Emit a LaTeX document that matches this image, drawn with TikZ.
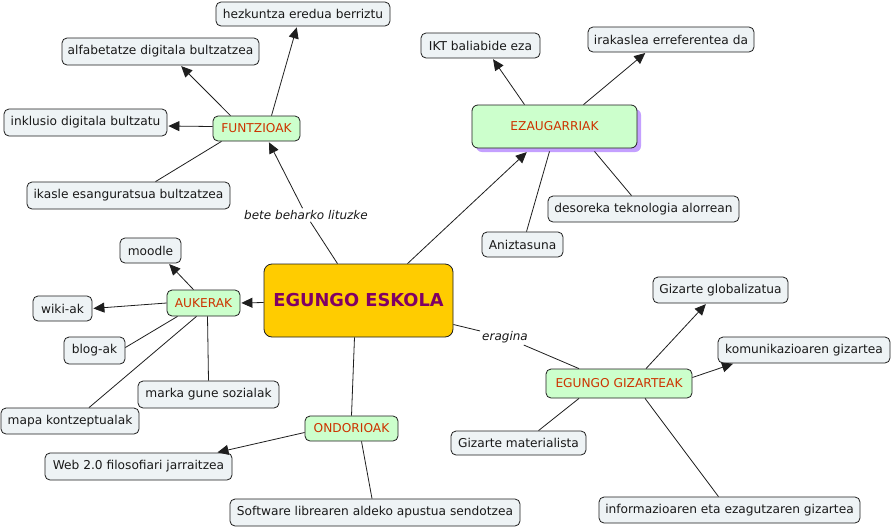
\documentclass[tikz,border=0pt]{standalone}
\usepackage{fontspec}
\setmainfont{DejaVu Sans}
\usetikzlibrary{arrows.meta,shadows}
\definecolor{cfill}{RGB}{238,243,245}
\definecolor{gfill}{RGB}{204,255,204}
\definecolor{rtext}{RGB}{204,51,0}
\definecolor{ofill}{RGB}{255,204,0}
\definecolor{ptext}{RGB}{128,0,100}
\definecolor{shad}{RGB}{196,160,255}
\definecolor{edge}{RGB}{30,30,30}
\begin{document}
\begin{tikzpicture}[x=1pt,y=-1pt,
  concept/.style={draw=edge, fill=cfill, rounded corners=5pt, line width=0.8pt,
    font=\fontsize{12.2}{14}\selectfont, text=black!90, inner sep=0pt},
  green/.style={concept, fill=gfill, text=rtext},
  center/.style={draw=edge, fill=ofill, rounded corners=8pt, line width=0.8pt,
    font=\fontsize{17.8}{20}\selectfont\bfseries, text=ptext, inner sep=0pt},
  lbl/.style={font=\fontsize{12}{14}\selectfont\itshape, text=black!90, inner sep=2pt},
  link/.style={draw=edge, line width=0.8pt},
  arr/.style={link, -{Triangle[length=11pt,width=10pt]}, shorten >=1pt}]
\useasboundingbox (0,0) rectangle (892,528);
\fill[white] (0,0) rectangle (892,528);

% nodes
\node[concept, minimum width=174, minimum height=24] (hez) at (303,14) {hezkuntza eredua berriztu};
\node[concept, minimum width=197, minimum height=27] (alf) at (160.5,51.5) {alfabetatze digitala bultzatzea};
\node[concept, minimum width=163, minimum height=27] (ink) at (85.5,122.5) {inklusio digitala bultzatu};
\node[green, minimum width=87, minimum height=25] (fun) at (256.5,128.5) {FUNTZIOAK};
\node[concept, minimum width=203, minimum height=27] (ika) at (128.5,195.5) {ikasle esanguratsua bultzatzea};
\node[lbl] (bete) at (306,215) {bete beharko lituzke};

\node[concept, minimum width=119, minimum height=25] (ikt) at (480.5,45.5) {IKT baliabide eza};
\node[concept, minimum width=166, minimum height=25] (ira) at (671,39.5) {irakaslea erreferentea da};
\node[green, minimum width=165, minimum height=43, rounded corners=6pt,
  drop shadow={shadow xshift=4pt, shadow yshift=-4pt, fill=shad, opacity=1}] (eza) at (554.5,126.5) {EZAUGARRIAK};
\node[concept, minimum width=191, minimum height=26] (des) at (643.5,209) {desoreka teknologia alorrean};
\node[concept, minimum width=81, minimum height=25] (ani) at (522.5,244.5) {Aniztasuna};

\node[concept, minimum width=61, minimum height=25] (moo) at (150.5,250.5) {moodle};
\node[center, minimum width=189, minimum height=73] (esk) at (358.5,300.5) {EGUNGO ESKOLA};
\node[green, minimum width=73, minimum height=26] (auk) at (203.5,303) {AUKERAK};
\node[concept, minimum width=59, minimum height=25] (wik) at (62.5,308.5) {wiki-ak};
\node[concept, minimum width=61, minimum height=27] (blo) at (94.5,350.5) {blog-ak};
\node[concept, minimum width=141, minimum height=27] (mar) at (208.5,394.5) {marka gune sozialak};
\node[concept, minimum width=138, minimum height=26] (map) at (70,421) {mapa kontzeptualak};
\node[green, minimum width=93, minimum height=25] (ond) at (351.5,428.5) {ONDORIOAK};
\node[concept, minimum width=187, minimum height=27] (web) at (138.5,466.5) {Web 2.0 filosofiari jarraitzea};
\node[concept, minimum width=290, minimum height=27] (sof) at (375,512.5) {Software librearen aldeko apustua sendotzea};

\node[concept, minimum width=135, minimum height=26] (glo) at (720.5,290) {Gizarte globalizatua};
\node[concept, minimum width=172, minimum height=26] (kom) at (804,350) {komunikazioaren gizartea};
\node[green, minimum width=146, minimum height=29] (gzt) at (619,383.5) {EGUNGO GIZARTEAK};
\node[concept, minimum width=135, minimum height=24] (mat) at (518.5,443) {Gizarte materialista};
\node[concept, minimum width=261, minimum height=26] (inf) at (729.5,510) {informazioaren eta ezagutzaren gizartea};
\node[lbl] (erag) at (505,337) {eragina};

% connectors
\draw[arr] ([xshift=15pt]fun.north) -- ([xshift=-6pt]hez.south);
\draw[arr] ([xshift=-26pt]fun.north) -- ([xshift=20pt]alf.south);
\draw[arr] ([yshift=2pt]fun.west) -- ([yshift=-3.5pt]ink.east);
\draw[link] ([xshift=-35pt]fun.south) -- ([xshift=27pt]ika.north);
\draw[link] ([xshift=-21pt]esk.north) -- (bete);
\draw[arr] (bete) -- ([xshift=12pt]fun.south);

\draw[arr] ([xshift=49pt]esk.north) -- ([xshift=-27pt,yshift=-3pt]eza.south);
\draw[arr] ([xshift=-30pt]eza.north) -- ([xshift=12pt]ikt.south);
\draw[arr] ([xshift=29pt]eza.north) -- ([xshift=-25pt]ira.south);
\draw[link] ([xshift=4pt]ani.north) -- ([xshift=-5pt,yshift=-3pt]eza.south);
\draw[link] ([xshift=-12pt]des.north) -- ([xshift=40pt,yshift=-3pt]eza.south);

\draw[arr] ([yshift=-2pt]esk.west) -- (auk.east);
\draw[arr] ([xshift=-10pt]auk.north) -- ([xshift=18pt]moo.south);
\draw[arr] (auk.west) -- (wik.east);
\draw[link] ([yshift=3pt]blo.east) -- ([xshift=-26pt]auk.south);
\draw[link] ([xshift=19pt]map.north) -- ([xshift=-7pt]auk.south);
\draw[link] (mar.north) -- ([xshift=4pt]auk.south);

\draw[link] ([xshift=-4pt]esk.south) -- (ond.north);
\draw[arr] ([yshift=-4pt]ond.west) -- ([xshift=78pt]web.north);
\draw[link] ([xshift=10pt]ond.south) -- ([xshift=-3pt]sof.north);

\draw[link] ([yshift=-24pt]esk.east) -- (erag);
\draw[link] (erag) -- ([xshift=-40pt]gzt.north);
\draw[arr] ([xshift=27pt]gzt.north) -- ([xshift=-14pt]glo.south);
\draw[arr] ([yshift=6pt]gzt.east) -- ([xshift=-70pt]kom.south);
\draw[link] ([xshift=20pt]mat.north) -- ([xshift=-40pt]gzt.south);
\draw[link] ([xshift=-11pt]inf.north) -- ([xshift=26pt]gzt.south);
\end{tikzpicture}
\end{document}
